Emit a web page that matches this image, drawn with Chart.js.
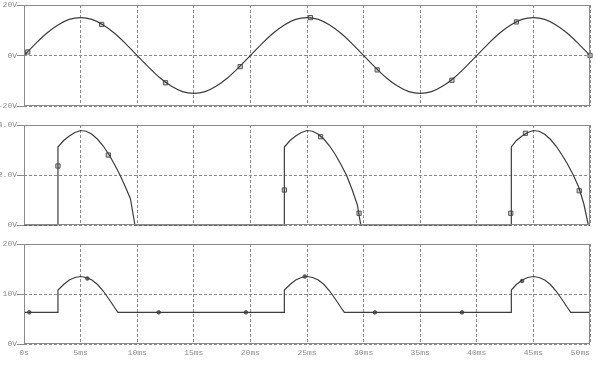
<!DOCTYPE html>
<html>
<head>
<meta charset="utf-8">
<script src="https://cdn.jsdelivr.net/npm/chart.js@4.4.1/dist/chart.umd.min.js"></script>
<style>
  html, body { margin: 0; padding: 0; background: #fff; }
  #wrap { position: relative; width: 597px; height: 365px; overflow: hidden; }
  canvas { position: absolute; left: 0; }
</style>
</head>
<body>
<div id="wrap">
  <canvas id="top" width="597" height="112" style="top:0px"></canvas>
  <canvas id="mid" width="597" height="112" style="top:119px"></canvas>
  <canvas id="bot" width="597" height="127" style="top:238px"></canvas>
</div>
<script>
// x axis (time, ms)
const xTicks = [0, 5, 10, 15, 20, 25, 30, 35, 40, 45, 50];
const xTickLabels = ['0s', '5ms', '10ms', '15ms', '20ms', '25ms', '30ms', '35ms', '40ms', '45ms', '50ms'];

// top trace: source voltage (V), read every 1 ms
const srcMs = [0, 1, 2, 3, 4, 5, 6, 7, 8, 9, 10, 11, 12, 13, 14, 15, 16, 17, 18, 19, 20,
  21, 22, 23, 24, 25, 26, 27, 28, 29, 30, 31, 32, 33, 34, 35, 36, 37, 38, 39, 40,
  41, 42, 43, 44, 45, 46, 47, 48, 49, 50];
const srcV = [0, 4.6, 8.8, 12.1, 14.3, 15.0, 14.3, 12.1, 8.8, 4.6, 0, -4.6, -8.8, -12.1, -14.3, -15.0, -14.3, -12.1, -8.8, -4.6, 0,
  4.6, 8.8, 12.1, 14.3, 15.0, 14.3, 12.1, 8.8, 4.6, 0, -4.6, -8.8, -12.1, -14.3, -15.0, -14.3, -12.1, -8.8, -4.6, 0,
  4.6, 8.8, 12.1, 14.3, 15.0, 14.3, 12.1, 8.8, 4.6, 0];
const srcMarkMs = [0.33, 6.86, 12.5, 19.1, 25.3, 31.2, 37.8, 43.5, 50];
const srcMarkV = [1.4, 12.3, -10.8, -4.4, 15.0, -5.7, -9.8, 13.3, 0];

// middle trace (V)
const midMs = [0, 3.0, 3.0, 3.5, 4, 4.5, 5, 5.5, 6, 6.5, 7, 7.5, 8, 8.5, 9, 9.4, 9.8,
  23.0, 23.0, 23.5, 24, 24.5, 25, 25.5, 26, 26.5, 27, 27.5, 28, 28.5, 29, 29.45, 29.75,
  43.05, 43.05, 43.5, 44, 44.5, 45, 45.5, 46, 46.5, 47, 47.5, 48, 48.5, 49, 49.45, 49.85, 50];
const midV = [0, 0, 3.12, 3.38, 3.56, 3.70, 3.78, 3.75, 3.63, 3.43, 3.16, 2.82, 2.42, 1.98, 1.48, 1.05, 0,
  0, 3.12, 3.38, 3.56, 3.70, 3.78, 3.75, 3.63, 3.43, 3.16, 2.82, 2.42, 1.98, 1.40, 0.80, 0,
  0, 3.12, 3.38, 3.56, 3.70, 3.78, 3.75, 3.63, 3.43, 3.16, 2.82, 2.45, 2.02, 1.52, 0.85, 0, 0];
const midMarkMs = [3.0, 7.45, 23.0, 26.2, 29.6, 43.0, 44.3, 49.05];
const midMarkV = [2.36, 2.8, 1.4, 3.53, 0.47, 0.47, 3.67, 1.37];

// bottom trace (V)
const botMs = [0, 3.0, 3.0, 3.5, 4, 4.5, 5, 5.5, 6, 6.5, 7, 7.5, 8, 8.3,
  23.0, 23.0, 23.5, 24, 24.5, 25, 25.5, 26, 26.5, 27, 27.5, 28, 28.3,
  43.05, 43.05, 43.5, 44, 44.5, 45, 45.5, 46, 46.5, 47, 47.5, 48, 48.3, 50];
const botV = [6.33, 6.33, 10.8, 11.9, 12.8, 13.3, 13.5, 13.3, 12.8, 11.9, 10.6, 9.0, 7.3, 6.33,
  6.33, 10.8, 11.9, 12.8, 13.3, 13.5, 13.3, 12.8, 11.9, 10.6, 9.0, 7.3, 6.33,
  6.33, 10.8, 11.9, 12.8, 13.3, 13.5, 13.3, 12.8, 11.9, 10.6, 9.0, 7.3, 6.33, 6.33];
const botMarkMs = [0.47, 5.6, 11.9, 19.6, 24.8, 31.0, 38.7, 44.0];
const botMarkV = [6.33, 13.1, 6.33, 6.33, 13.5, 6.33, 6.33, 12.6];

const LINE = '#3c3c3c';
const GRAY = '#8a8a8a';
const FONT = { family: "'Liberation Mono', 'DejaVu Sans Mono', monospace", size: 8 };

const pairs = (xs, ys) => xs.map((x, i) => ({ x, y: ys[i] }));

// plain frame round the plot area
const framePlugin = {
  id: 'frame',
  afterDraw(chart) {
    const a = chart.chartArea;
    const ctx = chart.ctx;
    ctx.save();
    ctx.strokeStyle = GRAY;
    ctx.lineWidth = 1;
    ctx.strokeRect(Math.round(a.left) + 0.5, Math.round(a.top) + 0.5,
      Math.round(a.right - a.left) - 1, Math.round(a.bottom - a.top) - 1);
    ctx.restore();
  }
};

function makePlot(id, opts) {
  const showX = !!opts.showX;
  new Chart(document.getElementById(id), {
    type: 'line',
    data: {
      datasets: [
        {
          data: pairs(opts.xs, opts.ys),
          borderColor: LINE,
          borderWidth: 1.2,
          pointRadius: 0,
          tension: opts.tension || 0,
          cubicInterpolationMode: opts.mono ? 'monotone' : 'default',
          clip: 2
        },
        {
          data: pairs(opts.mx, opts.my),
          showLine: false,
          pointStyle: opts.markStyle,
          pointRadius: opts.markRadius,
          pointBorderWidth: 1,
          pointBorderColor: '#555',
          pointBackgroundColor: opts.markFill,
          clip: false
        }
      ]
    },
    options: {
      responsive: false,
      animation: false,
      events: [],
      layout: { padding: opts.padding },
      plugins: { legend: { display: false }, tooltip: { enabled: false } },
      scales: {
        x: {
          type: 'linear',
          min: 0,
          max: 50,
          afterBuildTicks: s => { s.ticks = xTicks.map(v => ({ value: v })); },
          afterFit: s => { s.height = showX ? 21 : 0; s.paddingLeft = 0; s.paddingRight = 0; },
          border: { display: false, dash: [3, 2] },
          grid: { color: GRAY, drawTicks: false },
          ticks: {
            display: showX,
            color: GRAY,
            font: FONT,
            padding: 4,
            maxRotation: 0,
            autoSkip: false,
            callback: (v, i) => {
              // last label sits inside the right edge
              return i === xTicks.length - 1 ? xTickLabels[i] + '    ' : xTickLabels[i];
            }
          }
        },
        y: {
          min: opts.yMin,
          max: opts.yMax,
          afterBuildTicks: s => { s.ticks = opts.yTicks.map(v => ({ value: v })); },
          afterFit: s => { s.width = 24; s.paddingTop = 0; s.paddingBottom = 0; },
          border: { display: false, dash: [3, 2] },
          grid: { color: GRAY, tickLength: 7, tickColor: GRAY, tickBorderDash: [] },
          ticks: {
            color: GRAY,
            font: FONT,
            padding: 0,
            callback: (v, i) => opts.yLabels[i]
          }
        }
      }
    },
    plugins: [framePlugin]
  });
}

makePlot('top', {
  xs: srcMs, ys: srcV, mx: srcMarkMs, my: srcMarkV, mono: true,
  yMin: -20, yMax: 20, yTicks: [-20, 0, 20], yLabels: ['-20V', '0V', '20V'],
  padding: { top: 5, right: 7, bottom: 6, left: 0 },
  markStyle: 'rect', markRadius: 3, markFill: 'rgba(190,190,190,0.7)'
});

makePlot('mid', {
  xs: midMs, ys: midV, mx: midMarkMs, my: midMarkV,
  yMin: 0, yMax: 4, yTicks: [0, 2, 4], yLabels: ['0V', '2.0V', '4.0V'],
  padding: { top: 6, right: 7, bottom: 6, left: 0 },
  markStyle: 'rect', markRadius: 3, markFill: 'rgba(190,190,190,0.7)'
});

makePlot('bot', {
  xs: botMs, ys: botV, mx: botMarkMs, my: botMarkV, showX: true,
  yMin: 0, yMax: 20, yTicks: [0, 10, 20], yLabels: ['0V', '10V', '20V'],
  padding: { top: 6, right: 7, bottom: 0, left: 0 },
  markStyle: 'circle', markRadius: 1.8, markFill: '#666'
});
</script>
</body>
</html>
